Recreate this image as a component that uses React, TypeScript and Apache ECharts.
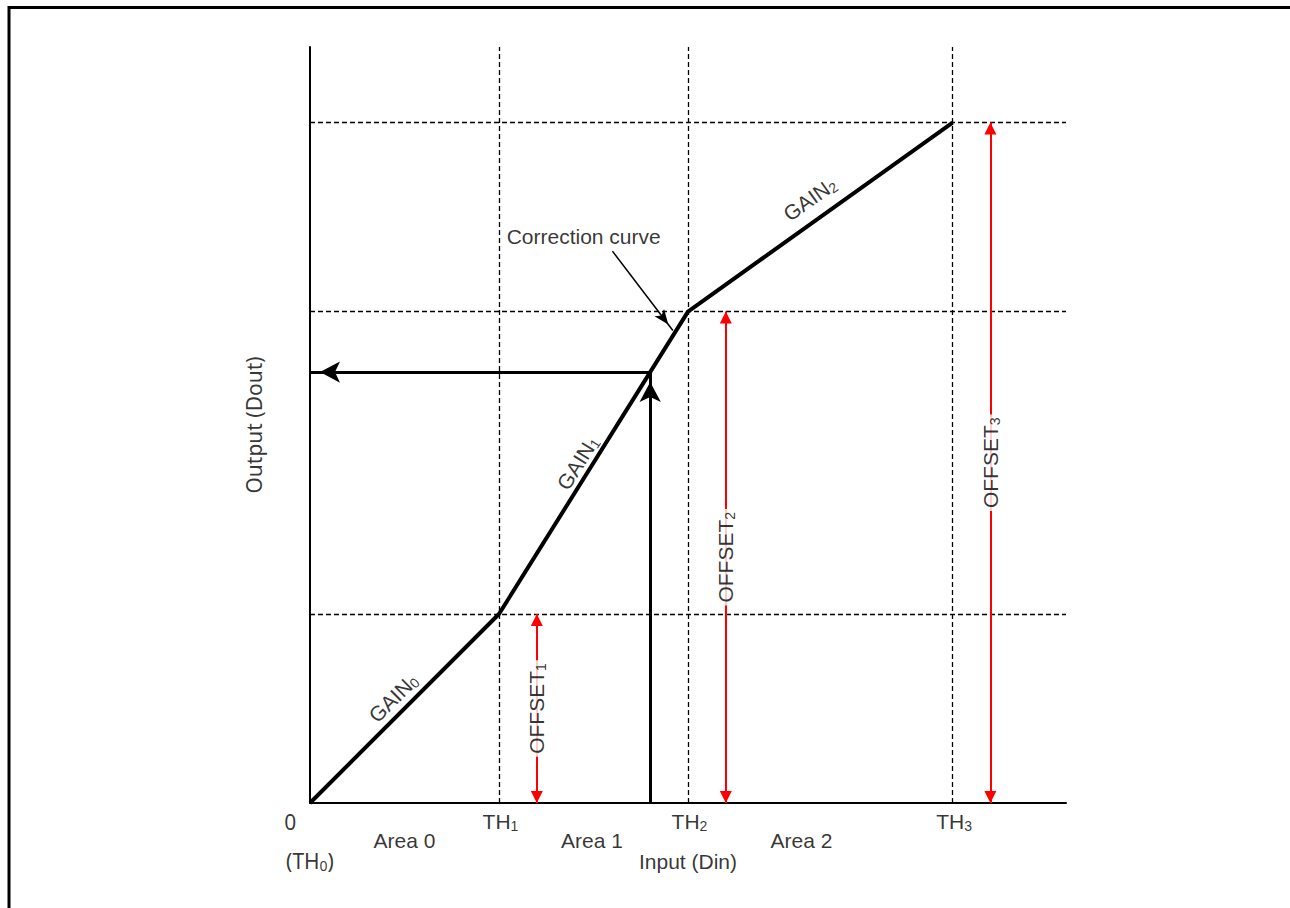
import React, { useEffect, useRef } from "react";
import * as echarts from "echarts";

// ---- data ----
const thresholds = [0, 25, 50, 85]; // TH0..TH3 (input)
const thresholdOutputs = [0, 25, 65, 90]; // output at each threshold
const xMax = 100;
const yMax = 100;
const inputDin = 45;
const outputDout = 57;
const offsetArrowX = [30, 55, 90]; // x of OFFSET1..3 arrows
const noteArrowFrom = [40, 73];
const noteArrowTo = [48, 62.5];

const SANS = "Liberation Sans, Arial, sans-serif";
const ALT = "Noto Sans, Open Sans, sans-serif";

type Ann = { text: string; x: number; y: number; rotate?: number; font?: string; mask?: boolean };
const annotations: Ann[] = [
  { text: "{b|0}", x: -2.6, y: -2.5, font: ALT },
  { text: "{b|(TH}{s|0}{b|)}", x: 0, y: -7.7, font: ALT },
  { text: "{b|Area 0}", x: 12.5, y: -5 },
  { text: "{b|TH}{s|1}", x: 25.2, y: -2.5 },
  { text: "{b|Area 1}", x: 37.3, y: -5 },
  { text: "{b|TH}{s|2}", x: 50.2, y: -2.5 },
  { text: "{b|Input (Din)}", x: 50, y: -7.7 },
  { text: "{b|Area 2}", x: 65, y: -5 },
  { text: "{b|TH}{s|3}", x: 85.2, y: -2.5 },
  { text: "{b|Output (Dout)}", x: -7.4, y: 50, rotate: 90, font: ALT },
  { text: "{b|Correction curve}", x: 36.2, y: 75 },
  { text: "{b|GAIN}{s|0}", x: 11, y: 13.9, rotate: 45 },
  { text: "{b|GAIN}{s|1}", x: 35.4, y: 45, rotate: 58 },
  { text: "{b|GAIN}{s|2}", x: 66.1, y: 79.9, rotate: 35.6 },
  { text: "{b|OFFSET}{s|1}", x: offsetArrowX[0], y: thresholdOutputs[1] / 2, rotate: 90, mask: true },
  { text: "{b|OFFSET}{s|2}", x: offsetArrowX[1], y: thresholdOutputs[2] / 2, rotate: 90, mask: true },
  { text: "{b|OFFSET}{s|3}", x: offsetArrowX[2], y: thresholdOutputs[3] / 2, rotate: 90, mask: true },
];

function rich(font: string) {
  return {
    b: { fontSize: 21, lineHeight: 23, fontFamily: font, color: "#000" },
    s: { fontSize: 14, lineHeight: 10, verticalAlign: "bottom", fontFamily: font, color: "#000" },
  };
}

export default function App() {
  const ref = useRef<HTMLDivElement>(null);
  useEffect(() => {
    if (!ref.current) return;
    const chart = echarts.init(ref.current, null, { renderer: "svg" });

    const curve = thresholds.map((t, i) => [t, thresholdOutputs[i]]);
    const guides: any[] = [];
    thresholds.slice(1).forEach((t) => guides.push([{ coord: [t, 0] }, { coord: [t, yMax] }]));
    thresholdOutputs.slice(1).forEach((v) => guides.push([{ coord: [0, v] }, { coord: [xMax, v] }]));

    const offsets = offsetArrowX.map((x, i) => [{ coord: [x, 0] }, { coord: [x, thresholdOutputs[i + 1]] }]);

    const labelData = annotations.map((a) => ({
      value: [a.x, a.y],
      label: {
        formatter: a.text,
        rotate: a.rotate || 0,
        rich: rich(a.font || SANS),
        backgroundColor: a.mask ? "#fff" : "transparent",
        padding: a.mask ? [1, 3, 1, 3] : 0,
      },
    }));

    const halfOff = [[0, "50%"], [0, "50%"]];

    chart.setOption({
      animation: false,
      backgroundColor: "#fff",
      grid: { left: 310, top: 47, right: 224, bottom: 105, outerBoundsMode: "none" },
      xAxis: {
        type: "value", min: 0, max: xMax,
        axisLine: { show: true, lineStyle: { color: "#000", width: 2 } },
        axisTick: { show: false }, axisLabel: { show: false }, splitLine: { show: false },
      },
      yAxis: {
        type: "value", min: 0, max: yMax,
        axisLine: { show: true, lineStyle: { color: "#000", width: 2 } },
        axisTick: { show: false }, axisLabel: { show: false }, splitLine: { show: false },
      },
      graphic: [
        {
          type: "rect", silent: true,
          shape: { x: 9, y: 7.5, width: 3000, height: 3000 },
          style: { fill: "none", stroke: "#000", lineWidth: 3 },
        },
      ],
      series: [
        {
          name: "guides", type: "line", data: [], silent: true, z: 1,
          markLine: {
            silent: true, symbol: ["none", "none"], label: { show: false },
            lineStyle: { color: "#000", width: 1.3, type: [5, 3] },
            emphasis: { disabled: true },
            data: guides,
          },
        },
        {
          name: "curve", type: "line", data: curve, silent: true, z: 3,
          symbol: "none", lineStyle: { color: "#000", width: 4, join: "round" },
        },
        {
          name: "io", type: "line", data: [], silent: true, z: 4,
          markLine: {
            silent: true, symbol: ["none", "arrow"], symbolSize: [16, 20], symbolOffset: halfOff,
            label: { show: false },
            lineStyle: { color: "#000", width: 3, type: "solid" },
            itemStyle: { color: "#000" },
            emphasis: { disabled: true },
            data: [
              [{ coord: [inputDin, 0] }, { coord: [inputDin, outputDout] }],
              [{ coord: [inputDin, outputDout] }, { coord: [0, outputDout] }],
            ],
          },
        },
        {
          name: "offsets", type: "line", data: [], silent: true, z: 4,
          markLine: {
            silent: true, symbol: ["triangle", "triangle"], symbolSize: [12, 12], symbolOffset: halfOff,
            label: { show: false },
            lineStyle: { color: "#ff0000", width: 2, type: "solid" },
            itemStyle: { color: "#ff0000" },
            emphasis: { disabled: true },
            data: offsets,
          },
        },
        {
          name: "note", type: "line", data: [], silent: true, z: 4,
          markLine: {
            silent: true, symbol: ["none", "arrow"], symbolSize: [9, 15], symbolOffset: halfOff,
            label: { show: false },
            lineStyle: { color: "#000", width: 1.5, type: "solid" },
            itemStyle: { color: "#000" },
            emphasis: { disabled: true },
            data: [[{ coord: noteArrowFrom }, { coord: noteArrowTo }]],
          },
        },
        {
          name: "labels", type: "scatter", data: labelData, silent: true, z: 10, clip: false,
          symbolSize: 0, itemStyle: { color: "rgba(0,0,0,0)" },
          label: { show: true, position: "inside", color: "#000", align: "center", verticalAlign: "middle" },
        },
      ],
    });
    return () => chart.dispose();
  }, []);
  return (
    <div
      ref={ref}
      style={{ position: "absolute", left: 0, top: 0, width: 1290, height: 908, background: "#fff" }}
    />
  );
}
